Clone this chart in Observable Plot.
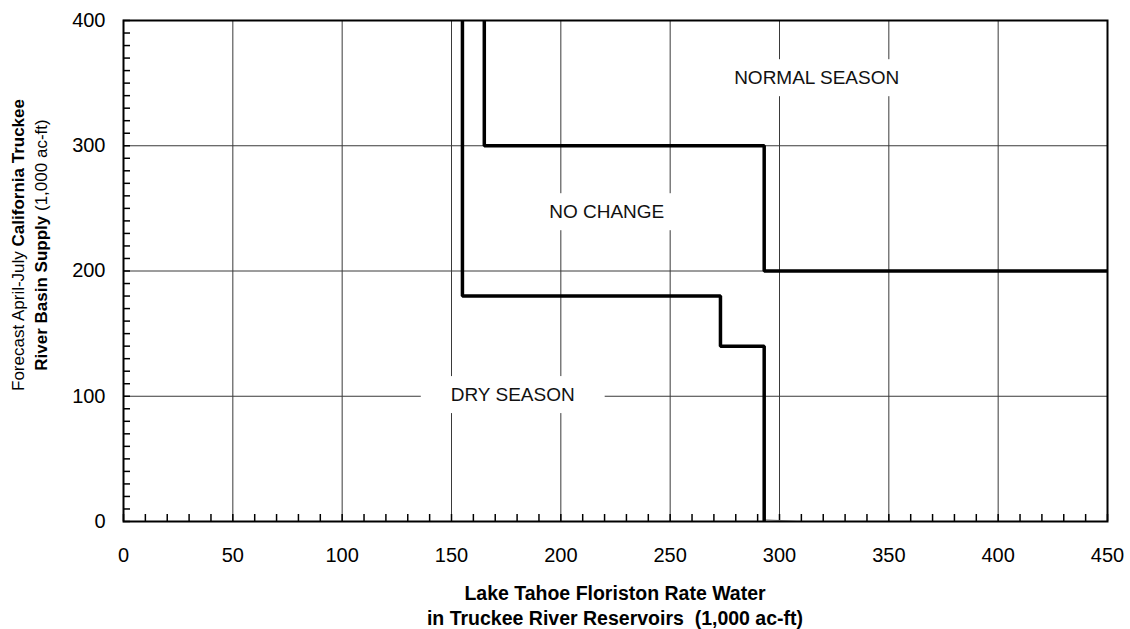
<!DOCTYPE html>
<html><head><meta charset="utf-8">
<script src="https://cdn.jsdelivr.net/npm/d3@7"></script>
<script src="https://cdn.jsdelivr.net/npm/@observablehq/plot@0.6"></script>
<style>
body{margin:0;background:#fff}
#chart svg{font-family:"Liberation Sans",Arial,sans-serif;display:block}
</style>
</head><body><div id="chart"></div>
<script>
// Axis ticks
const xTicks = [0, 50, 100, 150, 200, 250, 300, 350, 400, 450];
const yTicks = [0, 100, 200, 300, 400];
const xMinor = d3.range(0, 451, 10);
const yMinor = d3.range(0, 401, 10);

// Boundary between NORMAL SEASON and NO CHANGE
const upperX = [165, 165, 293, 293, 450];
const upperY = [400, 300, 300, 200, 200];

// Boundary between NO CHANGE and DRY SEASON
const lowerX = [155, 155, 273, 273, 293, 293];
const lowerY = [400, 180, 180, 140, 140, 0];

// small faint tail at the foot of the lower boundary
const tailX = [293, 308];
const tailY = [1.5, 0];

// Region labels
const regionLabels = ["NORMAL SEASON", "NO CHANGE", "DRY SEASON"];
const regionX = [317, 221, 178];
const regionY = [354, 247, 101];

const upper = upperX.map((x, i) => ({x, y: upperY[i]}));
const lower = lowerX.map((x, i) => ({x, y: lowerY[i]}));
const tail = tailX.map((x, i) => ({x, y: tailY[i]}));

const chart = Plot.plot({
  width: 1130,
  height: 629,
  marginLeft: 123,
  marginRight: 23,
  marginTop: 20,
  marginBottom: 108,
  style: {fontFamily: "Liberation Sans, Arial, sans-serif", fontSize: "20px", color: "black", background: "white", overflow: "visible"},
  x: {domain: [0, 450], ticks: xTicks, tickSize: 0, tickPadding: 26, label: null},
  y: {domain: [0, 400], ticks: yTicks, tickSize: 0, tickPadding: 18, label: null},
  marks: [
    Plot.ruleX(xTicks.slice(1, -1), {stroke: "#3a3a3a", strokeWidth: 1}),
    Plot.ruleY(yTicks.slice(1, -1), {stroke: "#3a3a3a", strokeWidth: 1}),
    Plot.text(regionLabels, {x: regionX, y: regionY, text: d => d, fontSize: 19, fill: "#111"}),
    Plot.ruleX(xMinor, {x: d => d, y1: 0, y2: 0, insetTop: -7, stroke: "black", strokeWidth: 1.5}),
    Plot.ruleY(yMinor, {y: d => d, x1: 0, x2: 0, insetRight: -7, stroke: "black", strokeWidth: 1.5}),
    Plot.line(tail, {x: "x", y: "y", stroke: "#999", strokeWidth: 1}),
    Plot.line(upper, {x: "x", y: "y", stroke: "black", strokeWidth: 3.5, strokeLinejoin: "miter", strokeLinecap: "butt"}),
    Plot.line(lower, {x: "x", y: "y", stroke: "black", strokeWidth: 3.5, strokeLinejoin: "miter", strokeLinecap: "butt"}),
    Plot.frame({stroke: "black", strokeWidth: 2})
  ]
});

document.getElementById("chart").appendChild(chart);

const svg = d3.select(chart);
const svgRect = chart.getBoundingClientRect();

// white boxes behind region labels
const labelTexts = Array.from(chart.querySelectorAll("text")).filter(t => regionLabels.includes(t.textContent));
if (labelTexts.length) {
  const labelGroup = labelTexts[0].parentNode;
  const boxes = labelTexts.map(t => {
    const r = t.getBoundingClientRect();
    return {x: r.left - svgRect.left - 30, y: r.top - svgRect.top - 8, w: r.width + 60, h: r.height + 16};
  });
  const bg = document.createElementNS("http://www.w3.org/2000/svg", "g");
  labelGroup.parentNode.insertBefore(bg, labelGroup);
  d3.select(bg).selectAll("rect").data(boxes).join("rect")
    .attr("x", d => d.x).attr("y", d => d.y).attr("width", d => d.w).attr("height", d => d.h)
    .attr("fill", "white");
}

// Y-axis title (two lines, mixed weight)
const yTitle = svg.append("g").attr("transform", "translate(0,245) rotate(-90)")
  .attr("font-size", 17).attr("fill", "black").attr("text-anchor", "middle");
const l1 = yTitle.append("text").attr("x", 0).attr("y", 24);
l1.append("tspan").text("Forecast April-July ");
l1.append("tspan").attr("font-weight", "bold").text("California Truckee");
const l2 = yTitle.append("text").attr("x", 0).attr("y", 47);
l2.append("tspan").attr("font-weight", "bold").text("River Basin Supply");
l2.append("tspan").text(" (1,000 ac-ft)");

// X-axis title
const xTitle = svg.append("g").attr("font-size", 19.5).attr("font-weight", "bold")
  .attr("text-anchor", "middle").attr("fill", "black");
xTitle.append("text").attr("x", 615).attr("y", 600).text("Lake Tahoe Floriston Rate Water");
xTitle.append("text").attr("x", 615).attr("y", 625).text("in Truckee River Reservoirs\u00a0 (1,000 ac-ft)");
</script>
</body></html>
